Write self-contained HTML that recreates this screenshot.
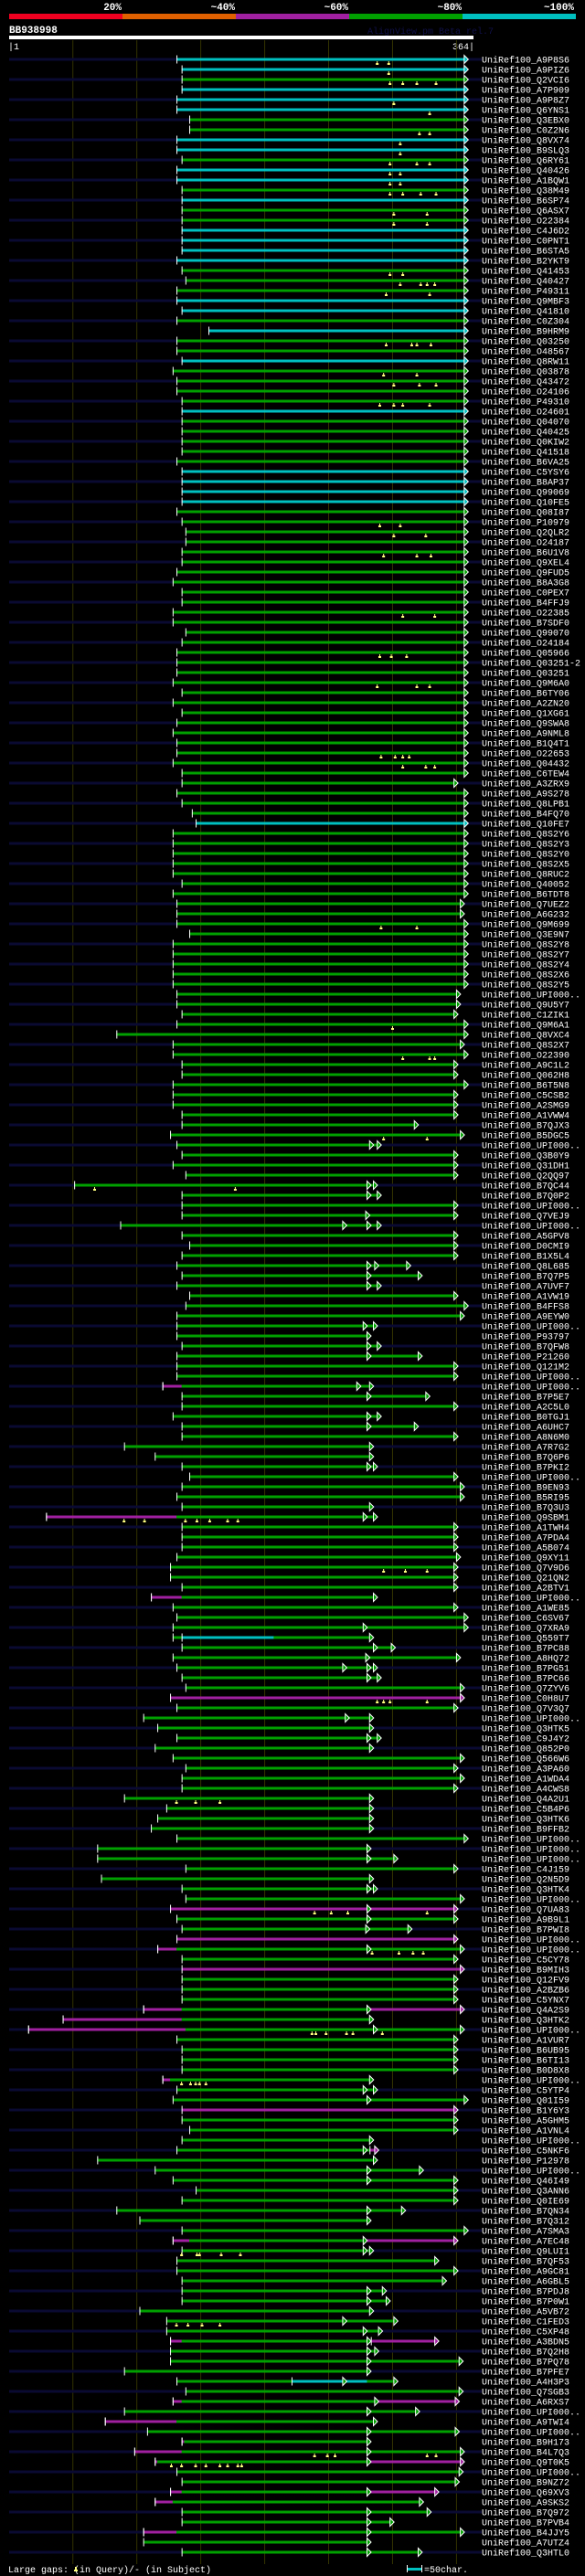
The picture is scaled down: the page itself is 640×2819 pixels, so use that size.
<!DOCTYPE html>
<html><head><meta charset="utf-8"><style>
html,body{margin:0;padding:0;background:#000;}
svg{display:block;}
text{font-family:"Liberation Mono",monospace;}
</style></head><body>
<svg id="chart" width="640" height="2819" viewBox="0 0 640 2819" xmlns="http://www.w3.org/2000/svg">
<rect x="0" y="0" width="640" height="2819" fill="#000"/>
<g font-weight="bold" font-size="11" fill="#fff" text-anchor="end">
<text x="133" y="11">20%</text><text x="257" y="11">~40%</text><text x="381" y="11">~60%</text><text x="505" y="11">~80%</text><text x="628" y="11">~100%</text>
</g>
<g>
<rect x="10" y="15" width="124" height="6" fill="#f00020"/><rect x="134" y="15" width="124" height="6" fill="#e06000"/><rect x="258" y="15" width="124" height="6" fill="#a020a0"/><rect x="382" y="15" width="124" height="6" fill="#00a000"/><rect x="506" y="15" width="124" height="6" fill="#00c0c0"/>
</g>
<text x="10" y="36" font-size="11" font-weight="bold" fill="#fff">BB938998</text>
<text x="402" y="37" font-size="10" fill="#101048">AlignView.pm Beta rel.7</text>
<rect x="10" y="39" width="508" height="4" fill="#fff"/>
<text x="9" y="54" font-size="10" fill="#fff">|1</text>
<text x="519" y="54" font-size="10" fill="#fff" text-anchor="end">364|</text>
<g id="grid"></g><g id="rows"></g>
<g>
<text x="9" y="2815" font-size="10" fill="#fff">Large gaps:  (in Query)/- (in Subject)</text>
<rect x="82" y="2809" width="2" height="4" fill="#ffff80"/><rect x="81" y="2812" width="4" height="2" fill="#ffff80"/>
<rect x="445" y="2810" width="16" height="3" fill="#00c0c0"/><rect x="445" y="2807" width="1" height="8" fill="#fff"/><rect x="461" y="2807" width="1" height="8" fill="#fff"/>
<text x="464" y="2815" font-size="10" fill="#fff">=50char.</text>
</g>
</svg>
<script>
const names = ("A9P8S6 A9PIZ6 Q2VCI6 A7P909 A9P8Z7 Q6YNS1 Q3EBX0 C0Z2N6 Q8VX74 B9SLQ3 Q6RY61 Q40426 A1BQW1 Q38M49 B6SP74 Q6ASX7 O22384 C4J6D2 C0PNT1 B6STA5 B2YKT9 Q41453 Q40427 P49311 Q9MBF3 Q41810 C0Z304 B9HRM9 Q03250 O48567 Q8RW11 Q03878 Q43472 O24106 P49310 O24601 Q04070 Q40425 Q0KIW2 Q41518 B6VA25 C5YSY6 B8AP37 Q99069 Q10FE5 Q08I87 P10979 Q2QLR2 O24187 B6U1V8 Q9XEL4 Q9FUD5 B8A3G8 C0PEX7 B4FFJ9 O22385 B7SDF0 Q99070 O24184 Q05966 Q03251-2 Q03251 Q9M6A0 B6TY06 A2ZN20 Q1XG61 Q9SWA8 A9NML8 B1Q4T1 O22653 Q04432 C6TEW4 A3ZRX9 A9S278 Q8LPB1 B4FQ70 Q10FE7 Q8S2Y6 Q8S2Y3 Q8S2Y0 Q8S2X5 Q8RUC2 Q40052 B6TDT8 Q7UEZ2 A6G232 Q9M699 Q3E9N7 Q8S2Y8 Q8S2Y7 Q8S2Y4 Q8S2X6 Q8S2Y5 UPI000.. Q9U5Y7 C1ZIK1 Q9M6A1 Q8VXC4 Q8S2X7 O22390 A9C1L2 Q062H8 B6T5N8 C5CSB2 A2SMG9 A1VWW4 B7QJX3 B5DGC5 UPI000.. Q3B0Y9 Q31DH1 Q2QQ97 B7QC44 B7Q0P2 UPI000.. Q7VEJ9 UPI000.. A5GPV8 D0CMI9 B1X5L4 Q8L685 B7Q7P5 A7UVF7 A1VW19 B4FFS8 A9EYW0 UPI000.. P93797 B7QFW8 P21260 Q121M2 UPI000.. UPI000.. B7P5E7 A2C5L0 B0TGJ1 A6UHC7 A8N6M0 A7R7G2 B7Q6P6 B7PKI2 UPI000.. B9EN93 B5RI95 B7Q3U3 Q9SBM1 A1TWH4 A7PDA4 A5B074 Q9XY11 Q7V9D6 Q21QN2 A2BTV1 UPI000.. A1WE85 C6SV67 Q7XRA9 Q559T7 B7PC88 A8HQ72 B7PG51 B7PC66 Q7ZYV6 C0H8U7 Q7V3Q7 UPI000.. Q3HTK5 C9J4Y2 Q852P0 Q566W6 A3PA60 A1WDA4 A4CWS8 Q4A2U1 C5B4P6 Q3HTK6 B9FFB2 UPI000.. UPI000.. UPI000.. C4J159 Q2N5D9 Q3HTK4 UPI000.. Q7UA83 A9B9L1 B7PWI8 UPI000.. UPI000.. C5CY78 B9MIH3 Q12FV9 A2BZB6 C5YNX7 Q4A2S9 Q3HTK2 UPI000.. A1VUR7 B6UB95 B6TI13 B0D8X8 UPI000.. C5YTP4 Q01I59 B1Y6Y3 A5GHM5 A1VNL4 UPI000.. C5NKF6 P12978 UPI000.. Q46I49 Q3ANN6 Q0IE69 B7QN34 B7Q312 A7SMA3 A7EC48 Q9LUI1 B7QF53 A9GC81 A6GBL5 B7PDJ8 B7P0W1 A5VB72 C1FED3 C5XP48 A3BDN5 B7Q2H8 B7PQ78 B7PFE7 A4H3P3 Q7SGB3 A6RXS7 UPI000.. A9TWI4 UPI000.. B9H173 B4L7Q3 Q9T0K5 UPI000.. B9NZ72 Q69XV3 A9SKS2 B7Q972 B7PVB4 B4JJY5 A7UTZ4 Q3HTL0").split(" ");
const starts = [132,136,136,136,132,132,142,142,132,132,136,132,132,136,136,136,136,136,136,136,132,136,139,132,132,136,132,157,132,132,136,129,132,132,136,136,136,136,136,136,132,136,136,136,136,132,136,139,139,136,136,132,129,136,136,129,129,139,136,132,132,132,129,136,129,136,132,129,132,132,129,136,136,132,136,144,147,129,129,129,129,129,136,
129,132,132,132,142,129,129,129,129,129,132,132,136,132,85,129,129,136,136,129,129,129,136,136,127,132,136,129,139,52,136,136,136,88,136,142,136,132,136,
132,142,139,132,132,132,136,132,132,132,121,136,136,129,136,136,91,115,
136,142,136,132,136,30,136,136,136,132,127,127,136,112,129,132,129,129,136,129,132,136,139,127,132,106,117,132,115,129,139,136,136,91,124,117,112,132,70,
70,139,73,136,139,127,132,136,132,117,136,136,136,136,136,106,43,16,132,136,136,136,121,132,129,136,136,142,136,132,70,115,129,147,136,85,103,136,129,
136,132,132,136,136,136,103,124,124,127,127,127,91,132,139,129,91,76,109,136,99,115,132,136,127,115,136,136,106,106,136];
const ends = [357,357,357,357,357,357,357,357,357,357,357,357,357,357,357,357,357,357,357,357,357,357,357,357,357,357,357,357,357,357,357,357,357,357,357,357,357,357,357,357,357,357,357,357,357,357,357,357,357,357,357,357,357,357,357,357,357,357,357,357,357,357,357,357,357,357,357,357,357,357,357,357,349,357,357,357,357,357,357,357,357,357,357,
357,354,354,357,357,357,357,357,357,357,351,351,349,357,357,354,357,349,349,357,349,349,349,318,354,289,349,349,349,286,289,349,349,289,349,349,349,312,321,
289,349,357,354,286,281,289,321,349,349,283,327,349,289,318,349,283,283,
286,349,354,354,283,286,349,349,349,351,349,349,349,286,349,357,357,283,300,351,286,289,354,354,349,283,283,289,283,354,349,354,349,283,283,283,283,357,281,
302,349,283,286,354,349,349,313,349,354,349,354,349,349,349,354,283,354,349,349,349,349,283,286,357,349,349,349,283,287,286,322,349,349,349,308,281,357,349,
283,334,349,340,293,296,283,302,290,334,287,353,281,302,353,350,319,286,350,281,354,354,353,350,334,322,328,299,354,281,321];
const cyanRows = [0,1,3,4,5,8,9,11,12,14,17,18,19,20,24,25,27,30,35,41,42,43,44,76];
const magentaRows = [163,184,187,190,204];
// overlay segments: row, from, to, colour code
const segRows = [145,153,157,132,188,194,194,195,196,201,208,217,217,227,227,231,233,233,235,237,238,239,239,242,242,243,246];
const segFrom = [30,112,136,121,117,106,281,43,16,121,283,129,278,127,284,222,129,287,76,136,99,115,281,127,281,115,106];
const segTo   = [132,136,208,136,132,136,354,136,139,127,287,142,349,136,334,281,136,350,132,138,136,117,354,136,334,129,132];
const segCol  = ["m","m","c","m","m","m","m","m","m","m","m","m","m","m","m","c","m","m","m","m","m","m","m","m","m","m","m"];
// intermediate arrow heads
const midArrowRows = [108,112,113,115,116,116,120,120,121,122,126,128,129,132,133,135,136,140,145,156,158,159,160,160,161,165,167,179,182,184,185,186,188,194,196,202,203,208,210,211,214,217,218,222,223,225,226,227,228,229,231,233,234,236,238,239,242,244,245,246,248];
const midArrowPos  = [283,281,281,280,262,281,281,287,281,281,278,281,281,273,281,281,281,281,278,278,286,280,262,281,281,264,281,281,281,281,281,280,281,281,286,278,281,278,281,281,281,278,278,281,281,262,278,281,281,281,262,287,281,281,281,281,281,281,281,281,281];
// large gap markers (row, query position)
const markRows = [0,0,1,2,2,2,2,4,5,7,7,8,9,10,10,10,11,11,12,12,13,13,13,13,15,15,16,16,21,21,22,22,22,22,23,23,28,28,28,28,31,31,32,32,32,34,34,34,34,46,46,47,47,49,49,49,55,55,59,59,59,62,62,62,69,69,69,69,70,70,70,86,86,96,99,99,99,107,107,112,112,145,145,145,145,145,145,145,150,150,150,163,163,163,163,173,173,173,184,184,184,184,188,188,188,188,196,196,196,196,196,196,201,201,201,201,201,218,218,218,218,218,225,225,225,225,238,238,238,238,238,239,239,239,239,239,239,239,239];
const markPos  = [289,298,298,299,309,320,335,302,330,322,330,307,307,299,320,330,299,307,299,307,299,309,323,335,302,328,302,328,299,309,323,334,307,328,296,330,296,316,320,331,294,320,302,322,335,291,302,309,330,291,307,302,327,294,320,331,309,334,291,300,312,289,320,330,292,303,309,314,309,327,334,292,320,301,309,330,334,294,328,68,178,91,107,139,148,158,172,180,294,311,328,289,294,299,328,132,147,166,240,253,266,328,285,306,317,325,238,241,249,265,270,293,136,143,147,150,155,136,148,150,167,182,132,141,152,166,240,250,256,328,335,128,136,147,155,166,172,180,183];

const SVGNS = "http://www.w3.org/2000/svg";
function xPos(p){ return 9.8 + (p - 1) * 1.3989; }
function yRow(i){ return 65 + i * 11; }
const COLORS = {g:"#00a000", c:"#00c0c0", m:"#a020a0"};
function el(tag, attrs, parent){ const e = document.createElementNS(SVGNS, tag); for (const k in attrs) e.setAttribute(k, attrs[k]); parent.appendChild(e); return e; }

const grid = document.getElementById("grid");
const gridTicks = [50,100,150,200,250,300,350];
gridTicks.forEach(t => {
  const line = el("rect", {x: xPos(t + 1) - 0.5, y: 44, width: 1, height: 2762, fill: "#333300"}, grid);
  
  
});

const rowsG = document.getElementById("rows");
function arrow(g, p, y, color){
  const x = xPos(p);
  const a = el("path", {d: `M${x} ${y-4.5} L${x+4.5} ${y} L${x} ${y+4.5} Z`, fill: color, stroke: "#fff", "stroke-width": 1}, g);
  
  
}
names.forEach((nm, i) => {
  const y = yRow(i);
  const g = el("g", {}, rowsG);
  
  
  if (i % 2 === 0) {
    const s = el("rect", {x: 10, y: y - 1.5, width: 517, height: 3, fill: "#0a0a32"}, g);
    
    
  }
  const base = cyanRows.includes(i) ? "c" : (magentaRows.includes(i) ? "m" : "g");
  const col = COLORS[base];
  const bar = el("rect", {x: xPos(starts[i]), y: y - 1.5, width: xPos(ends[i]) - xPos(starts[i]), height: 3, fill: col}, g);
  
  
  segRows.forEach((r, k) => {
    if (r !== i) return;
    const sg = el("rect", {x: xPos(segFrom[k]), y: y - 1.5, width: xPos(segTo[k]) - xPos(segFrom[k]), height: 3, fill: COLORS[segCol[k]]}, g);
    
    
    const tk = el("rect", {x: xPos(segFrom[k]), y: y - 4.5, width: 1, height: 9, fill: "#fff"}, g);
    
    
  });
  const tick = el("rect", {x: xPos(starts[i]), y: y - 4.5, width: 1, height: 9, fill: "#fff"}, g);
  
  
  midArrowRows.forEach((r, k) => { if (r === i && midArrowPos[k] < ends[i] - 2) arrow(g, midArrowPos[k], y, col === COLORS.m ? COLORS.g : col); });
  let endCol = col;
  segRows.forEach((r, k) => { if (r === i && segTo[k] >= ends[i]) endCol = COLORS[segCol[k]]; });
  arrow(g, ends[i], y, endCol);
  markRows.forEach((r, k) => {
    if (r !== i) return;
    const mx = xPos(markPos[k]);
    const m = el("path", {d: `M${mx-0.5} ${y+2} h1 v2 h1 v2 h-3 v-2 h1 Z`, fill: "#ffff80"}, g);
    
    
  });
  const t = el("text", {x: 527, y: y + 3.5, "font-size": 10, fill: "#fff"}, g);
  t.textContent = "UniRef100_" + nm;
  
  
});
</script>
</body></html>
